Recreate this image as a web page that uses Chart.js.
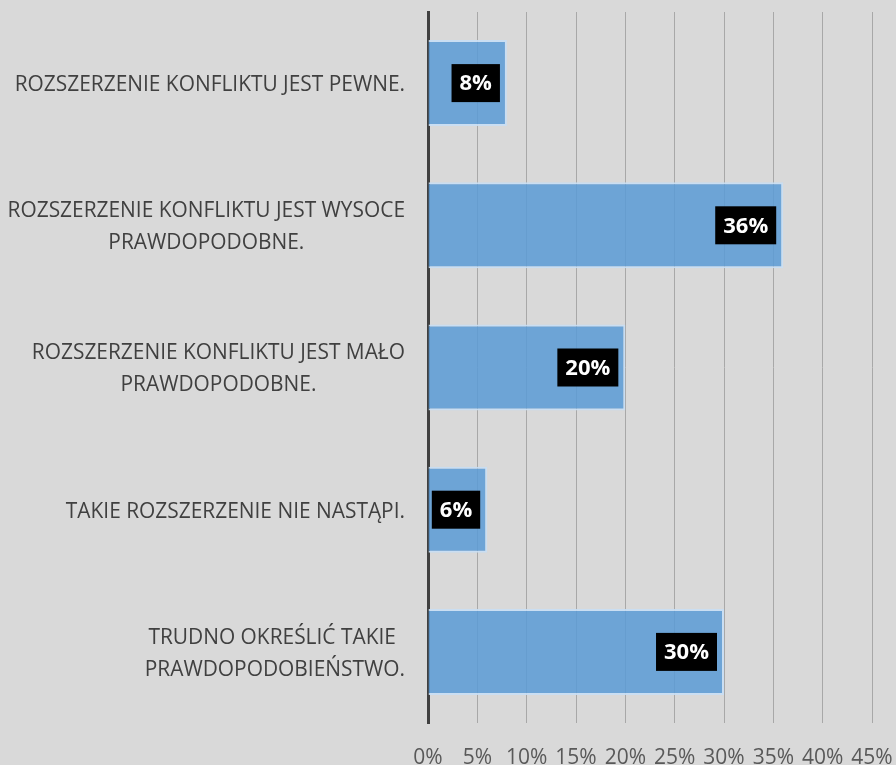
<!DOCTYPE html>
<html>
<head>
<meta charset="utf-8">
<script src="https://cdn.jsdelivr.net/npm/chart.js@4/dist/chart.umd.min.js"></script>
<style>
  html, body { margin: 0; padding: 0; background: #d9d9d9; }
  canvas { display: block; }
</style>
</head>
<body>
<canvas id="c" width="896" height="765"></canvas>
<script>
const categories = [
  ["ROZSZERZENIE KONFLIKTU JEST PEWNE."],
  ["ROZSZERZENIE KONFLIKTU JEST WYSOCE", "PRAWDOPODOBNE."],
  ["ROZSZERZENIE KONFLIKTU JEST MAŁO", "PRAWDOPODOBNE."],
  ["TAKIE ROZSZERZENIE NIE NASTĄPI."],
  ["TRUDNO OKREŚLIĆ TAKIE ", "PRAWDOPODOBIEŃSTWO."]
];
const values = [8, 36, 20, 6, 30];
const xMin = 0, xMax = 45, xStep = 5;
const tickSuffix = "%";

const FONT = "'Open Sans', 'DejaVu Sans', sans-serif";

const bgPlugin = {
  id: 'bg',
  beforeDraw(chart) {
    const ctx = chart.ctx;
    ctx.save();
    ctx.fillStyle = '#d9d9d9';
    ctx.fillRect(0, 0, chart.width, chart.height);
    ctx.restore();
  }
};

const catLabelPlugin = {
  id: 'catLabels',
  afterDraw(chart) {
    const ctx = chart.ctx;
    const ys = chart.scales.y;
    const rightEdge = chart.chartArea.left - 23;
    const lineH = 32;
    ctx.save();
    ctx.font = "20.9px " + FONT;
    ctx.fillStyle = '#404040';
    ctx.textAlign = 'center';
    ctx.textBaseline = 'middle';
    categories.forEach((lines, i) => {
      const y = ys.getPixelForTick(i) + 2;
      const widest = Math.max(...lines.map(l => ctx.measureText(l).width));
      const cx = rightEdge - widest / 2;
      lines.forEach((l, j) => {
        ctx.fillText(l, cx, y + (j - (lines.length - 1) / 2) * lineH);
      });
    });
    ctx.restore();
  }
};

const valueLabelPlugin = {
  id: 'valueLabels',
  afterDatasetsDraw(chart) {
    const ctx = chart.ctx;
    const meta = chart.getDatasetMeta(0);
    ctx.save();
    ctx.font = "bold 22px " + FONT;
    ctx.textAlign = 'center';
    ctx.textBaseline = 'middle';
    meta.data.forEach((bar, i) => {
      const txt = values[i] + tickSuffix;
      const w = ctx.measureText(txt).width + 16;
      const h = 38;
      const right = bar.x - 7;
      const left = right - w;
      ctx.fillStyle = '#000000';
      ctx.fillRect(left, bar.y - h / 2, w, h);
      ctx.fillStyle = '#ffffff';
      ctx.fillText(txt, left + w / 2, bar.y + 1);
    });
    ctx.restore();
  }
};

new Chart(document.getElementById('c'), {
  type: 'bar',
  data: {
    labels: categories,
    datasets: [{
      data: values,
      backgroundColor: 'rgba(91,155,213,0.86)',
      borderColor: 'rgba(200,222,244,0.9)',
      borderWidth: 2,
      borderSkipped: 'start',
      barPercentage: 0.605,
      categoryPercentage: 1.0
    }]
  },
  options: {
    indexAxis: 'y',
    responsive: false,
    animation: false,
    layout: { padding: { top: 12, right: 0, left: 0, bottom: 0 } },
    plugins: {
      legend: { display: false },
      tooltip: { enabled: false },
      title: { display: false }
    },
    scales: {
      x: {
        min: xMin,
        max: xMax,
        ticks: {
          stepSize: xStep,
          color: '#595959',
          font: { family: FONT, size: 21 },
          padding: 22,
          callback: v => v + tickSuffix
        },
        grid: { color: '#a8a8a8', lineWidth: 1, drawTicks: false },
        border: { display: false },
        afterFit(s) { s.height = 42; s.paddingRight = 24; s.paddingLeft = 0; }
      },
      y: {
        ticks: { display: false },
        grid: { display: false },
        border: { display: true, color: '#404040', width: 3 },
        afterFit(s) { s.width = 428; }
      }
    }
  },
  plugins: [bgPlugin, valueLabelPlugin, catLabelPlugin]
});
</script>
</body>
</html>
